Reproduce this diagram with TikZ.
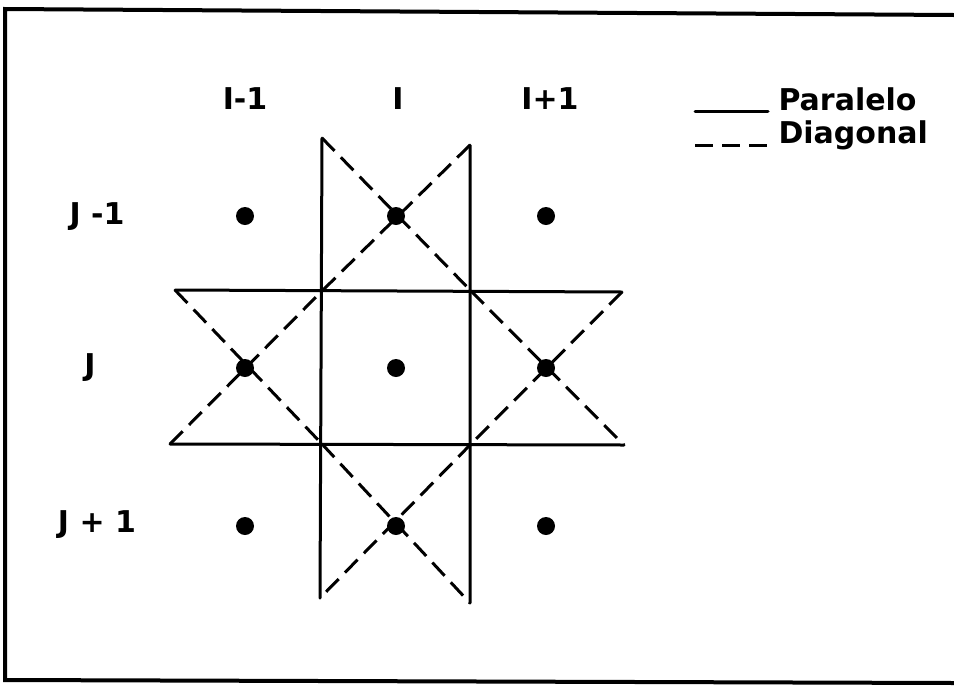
\documentclass[tikz,border=0pt]{standalone}
\usepackage{fontspec}
\setmainfont{DejaVu Sans}
\begin{document}
\begin{tikzpicture}[x=1pt,y=-1pt,
    paralelo/.style={line width=3pt,line cap=round},
    diagonal/.style={line width=3pt,dash pattern=on 18pt off 9pt},
    punto/.style={circle,fill,inner sep=0pt,minimum size=18pt},
    rotulo/.style={font=\bfseries\fontsize{30}{30}\selectfont,inner sep=0pt}]
    \useasboundingbox (0,0) rectangle (954,689);
    % marco
    \draw[line width=4pt] (954,15) -- (5,9) -- (5,680) -- (954,683);
    % rotulos de columnas y filas
    \node[rotulo,anchor=base] (im) at (245,109) {I-1};
    \node[rotulo,anchor=base] (i)  at (398,109) {I};
    \node[rotulo,anchor=base] (ip) at (550,109) {I+1};
    \node[rotulo] (jm) at (97,217) {J -1};
    \node[rotulo] (j)  at (90,368) {J};
    \node[rotulo] (jp) at (97,525) {J + 1};
    % puntos de la malla
    \foreach \c/\x in {1/245,2/396,3/546}
      \foreach \f/\y in {1/216,2/368,3/526}
        \node[punto] (p\c\f) at (\x,\y) {};
    % esquinas
    \coordinate (tl) at (322,138);  \coordinate (tr) at (470,145);
    \coordinate (a)  at (322,291);  \coordinate (b)  at (471,291);
    \coordinate (c)  at (322,444);  \coordinate (d)  at (471,444);
    \coordinate (l1) at (175,290);  \coordinate (l2) at (170,444);
    \coordinate (r1) at (622,292);  \coordinate (r2) at (624,445);
    \coordinate (bl) at (320,598);  \coordinate (br) at (470,603);
    % paralelo
    \draw[paralelo] (tl) -- (bl) (tr) -- (br) (l1) -- (r1) (l2) -- (r2);
    % diagonal
    \draw[diagonal] (tl) -- (b) (tr) -- (a);
    \draw[diagonal] (l1) -- (c) (l2) -- (a);
    \draw[diagonal] (b) -- (r2) (r1) -- (d);
    \draw[diagonal] (c) -- (br) (d) -- (bl);
    % leyenda
    \coordinate (s1) at (695,111); \coordinate (s2) at (768,111);
    \coordinate (d1) at (695,145); \coordinate (d2) at (768,145);
    \draw[paralelo] (s1) -- (s2) node[rotulo,anchor=base west,xshift=9pt,yshift=1pt] (par) {Paralelo};
    \draw[diagonal] (d1) -- (d2) node[rotulo,anchor=base west,xshift=9pt,yshift=2pt] (diag) {Diagonal};
\end{tikzpicture}
\end{document}
